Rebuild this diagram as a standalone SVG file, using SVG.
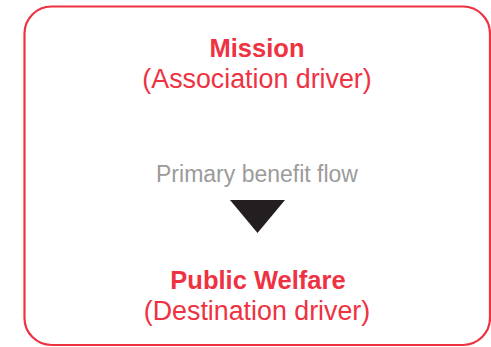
<svg xmlns="http://www.w3.org/2000/svg" width="491" height="347" viewBox="0 0 491 347">
<style>
.t{font-family:"Liberation Sans",Arial,sans-serif;text-anchor:middle}
.h{font-weight:bold;font-size:25.5px;fill:#ee3242}
.s{font-size:26.8px;fill:#ee3242}
.g{font-size:23px;fill:#9b9b9b}
</style>
<rect x="0" y="0" width="491" height="347" fill="#ffffff"/>
<g id="frame">
<rect x="24.5" y="6.5" width="465.5" height="338.5" rx="27" ry="27" fill="none" stroke="#ee3242" stroke-width="2.2"/>
</g>
<g id="mission">
<text class="t h" x="257" y="57">Mission</text>
<text class="t s" x="257" y="88">(Association driver)</text>
</g>
<g id="connectors">
<text class="t g" x="257" y="181.5">Primary benefit flow</text>
<polygon points="230,200 285,200 257.5,233" fill="#231f20"/>
</g>
<g id="public-welfare">
<text class="t h" x="258" y="289">Public Welfare</text>
<text class="t s" x="257" y="320">(Destination driver)</text>
</g>
</svg>
